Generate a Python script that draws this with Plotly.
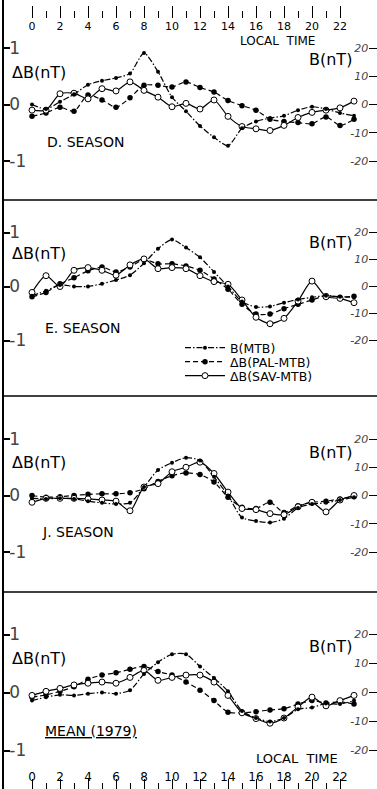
import plotly.graph_objects as go

# ---------------- data ----------------
hours = list(range(24))
tick_hours = list(range(0, 24, 2))
tick_labels = [str(h) for h in tick_hours]
minor_hours = list(range(1, 24, 2))

panel_labels = ["D. SEASON", "E. SEASON", "J. SEASON", "<u>MEAN (1979)</u>"]
series_names = ["B(MTB)", "ΔB(PAL-MTB)", "ΔB(SAV-MTB)"]

left_ticks = [-1, 0, 1]
left_tick_text = ["-1", "0", "1"]
right_ticks = [-20, -10, 0, 10, 20]
right_tick_text = ["-20", "-10", "0", "10", "20"]

# B(MTB) in nT (right axis)
d_b_mtb = [0, -1.6, 1, 3.6, 7, 8.4, 9.4, 11, 18.2, 11.6, 2.6, -2.4, -7.6, -11.6, -14.6, -8.4, -6, -4.8, -4, -2, -0.8, -1.6, -3, -4]
e_b_mtb = [-3.4, -1.6, 0.6, 0, 0, 1, 2.4, 4.2, 8.6, 14, 17.4, 14.4, 10.8, 5.4, 0, -5.6, -7.6, -7.4, -6, -4.8, -4, -3.4, -3.8, -4]
j_b_mtb = [-1, -1.2, -1, -1.2, -2, -2.6, -3, -2.6, 3, 9, 11.6, 13.4, 12.4, 6.6, 0, -7.8, -9, -9.6, -8.2, -4.4, -3, -2.6, -1.6, -0.6]
m_b_mtb = [-2.8, -1.6, -0.8, -1, -0.4, 0, -0.4, 0.8, 6.4, 10.4, 13.2, 13.2, 9, 5, 0.4, -6.4, -8.8, -10, -8.8, -5.8, -5.2, -3.8, -4, -2.8]

# ΔB(PAL-MTB) in nT (left axis)
d_pal = [-0.21, -0.15, -0.05, -0.12, 0.17, 0.08, -0.05, 0.12, 0.34, 0.34, 0.31, 0.40, 0.30, 0.22, 0.07, -0.02, -0.10, -0.26, -0.30, -0.32, -0.34, -0.22, -0.37, -0.26]
e_pal = [-0.19, -0.11, 0.05, 0.16, 0.29, 0.36, 0.27, 0.36, 0.50, 0.42, 0.42, 0.38, 0.30, 0.14, -0.05, -0.33, -0.51, -0.51, -0.41, -0.33, -0.25, -0.17, -0.20, -0.18]
j_pal = [0.0, -0.03, -0.02, 0.0, 0.02, 0.03, 0.03, 0.05, 0.12, 0.25, 0.35, 0.40, 0.37, 0.24, -0.03, -0.21, -0.23, -0.12, -0.30, -0.18, -0.12, -0.10, -0.06, -0.02]
m_pal = [-0.08, -0.04, 0.02, 0.10, 0.23, 0.30, 0.34, 0.40, 0.45, 0.36, 0.30, 0.18, 0.04, -0.14, -0.34, -0.35, -0.33, -0.30, -0.28, -0.20, -0.14, -0.18, -0.16, -0.20]

# ΔB(SAV-MTB) in nT (left axis)
d_sav = [-0.10, -0.10, 0.19, 0.20, 0.10, 0.28, 0.24, 0.40, 0.25, 0.13, -0.04, 0.02, -0.08, 0.08, -0.21, -0.39, -0.43, -0.46, -0.37, -0.23, -0.14, -0.10, -0.06, 0.06]
e_sav = [-0.11, 0.20, 0.00, 0.30, 0.35, 0.30, 0.21, 0.40, 0.51, 0.33, 0.35, 0.33, 0.20, 0.09, 0.04, -0.25, -0.57, -0.69, -0.59, -0.27, 0.10, -0.19, -0.22, -0.30]
j_sav = [-0.12, -0.05, -0.05, -0.05, -0.06, -0.08, -0.10, -0.27, 0.15, 0.21, 0.42, 0.50, 0.59, 0.39, 0.06, -0.23, -0.25, -0.32, -0.34, -0.20, -0.12, -0.29, -0.08, 0.00]
m_sav = [-0.05, 0.02, 0.07, 0.13, 0.16, 0.18, 0.16, 0.26, 0.38, 0.21, 0.26, 0.30, 0.30, 0.18, -0.05, -0.35, -0.45, -0.53, -0.44, -0.25, -0.08, -0.23, -0.14, -0.05]

b_mtb_all = [d_b_mtb, e_b_mtb, j_b_mtb, m_b_mtb]
pal_all = [d_pal, e_pal, j_pal, m_pal]
sav_all = [d_sav, e_sav, j_sav, m_sav]

# ---------------- layout geometry ----------------
W, H = 377, 789
FONT = "DejaVu Sans"
panel_top = [0, 200, 396, 592]
panel_bot = [200, 396, 592, 789]
zero_px = [104.5, 286.5, 495.5, 692.5]
unit_px = [56.5, 54.0, 56.5, 58.0]
right_scale = 20.0
x_left_px, x_zero_px, px_per_hour = 4, 32, 14.0
x_range = [(x_left_px - x_zero_px) / px_per_hour, (W - x_zero_px) / px_per_hour]
legend_rows_px = [348, 362, 376]


def py(p):
    return 1 - p / H


fig = go.Figure()

legend_ids = ["legend", "legend2", "legend3"]
for i in range(4):
    sx = "" if i == 0 else str(i + 1)
    xname = "x" + sx
    yname = "y" + sx
    rname = "y" + str(i + 5)
    show = i == 0
    fig.add_trace(go.Scatter(
        x=hours, y=b_mtb_all[i], xaxis=xname, yaxis=rname, name=series_names[0],
        mode="lines+markers", showlegend=show, legend=legend_ids[0],
        line=dict(color="black", width=1.2, dash="6px,2px,1.5px,2px", shape="spline", smoothing=0.7),
        marker=dict(size=4, color="black")))
    fig.add_trace(go.Scatter(
        x=hours, y=pal_all[i], xaxis=xname, yaxis=yname, name=series_names[1],
        mode="lines+markers", showlegend=show, legend=legend_ids[1],
        line=dict(color="black", width=1.2, dash="5px,3px", shape="spline", smoothing=0.7),
        marker=dict(size=5.5, color="black")))
    fig.add_trace(go.Scatter(
        x=hours, y=sav_all[i], xaxis=xname, yaxis=yname, name=series_names[2],
        mode="lines+markers", showlegend=show, legend=legend_ids[2],
        line=dict(color="black", width=1.2, shape="spline", smoothing=0.7),
        marker=dict(size=6, color="white", symbol="circle", line=dict(color="black", width=1))))

# invisible helper trace so that the bottom label axis is drawn
fig.add_trace(go.Scatter(x=tick_hours, y=[None] * len(tick_hours), xaxis="x5", yaxis="y4",
                         mode="markers", showlegend=False, hoverinfo="skip"))

layout = dict(
    width=W, height=H, margin=dict(l=0, r=0, t=0, b=0),
    paper_bgcolor="white", plot_bgcolor="white",
    font=dict(family=FONT, color="black"),
    showlegend=True,
    hovermode=False,
)
for k, lid in enumerate(legend_ids):
    layout[lid] = dict(x=180 / W, y=py(legend_rows_px[k]), xanchor="left", yanchor="middle",
                       font=dict(size=12.5, family=FONT), bgcolor="rgba(0,0,0,0)",
                       itemwidth=40, borderwidth=0)

for i in range(4):
    sx = "" if i == 0 else str(i + 1)
    dom = [py(panel_bot[i]), py(panel_top[i])]
    yr = [(zero_px[i] - panel_bot[i]) / unit_px[i], (zero_px[i] - panel_top[i]) / unit_px[i]]
    xa = dict(domain=[x_left_px / W, 1], range=x_range, showgrid=False, zeroline=False,
              anchor="y" + sx, visible=False)
    if i == 0:
        xa.update(visible=True, anchor="free", position=py(18), side="bottom",
                  tickmode="array", tickvals=tick_hours, ticktext=tick_labels,
                  ticks="inside", ticklen=12, tickwidth=1.3, tickcolor="black",
                  minor=dict(tickmode="array", tickvals=minor_hours, ticks="inside",
                             ticklen=7, tickwidth=1.3, tickcolor="black"),
                  showline=False, tickfont=dict(size=11, family=FONT))
    if i == 3:
        xa.update(visible=True, side="bottom", tickmode="array", tickvals=tick_hours,
                  showticklabels=False, ticks="inside", ticklen=10, tickwidth=1.3,
                  tickcolor="black",
                  minor=dict(tickmode="array", tickvals=minor_hours, ticks="inside",
                             ticklen=6, tickwidth=1.3, tickcolor="black"),
                  showline=False)
    layout["xaxis" + sx] = xa
    layout["yaxis" + sx] = dict(
        domain=dom, range=yr, anchor="x" + sx, showgrid=False, zeroline=False,
        tickmode="array", tickvals=left_ticks, ticktext=left_tick_text,
        ticks="inside", ticklen=6, tickwidth=1.5, tickcolor="black",
        ticklabelposition="inside", tickfont=dict(size=17, family=FONT),
        showline=True, linecolor="black", linewidth=1.5)
    layout["yaxis" + str(i + 5)] = dict(
        overlaying="y" + sx, anchor="x" + sx, side="right",
        range=[v * right_scale for v in yr], showgrid=False, zeroline=False,
        tickmode="array", tickvals=right_ticks, ticktext=right_tick_text,
        ticks="inside", ticklen=8, tickwidth=1, tickcolor="black",
        ticklabelposition="inside", showline=False,
        tickfont=dict(size=11, family=FONT, style="italic"))

layout["xaxis5"] = dict(overlaying="x4", anchor="free", position=6 / H, side="top",
                        range=x_range, tickmode="array", tickvals=tick_hours,
                        ticktext=tick_labels, ticks="", showline=False, showgrid=False,
                        zeroline=False, tickfont=dict(size=12, family=FONT))

shapes = []
for b in panel_bot[:3]:
    shapes.append(dict(type="line", xref="paper", yref="paper", x0=x_left_px / W, x1=1,
                       y0=py(b), y1=py(b), line=dict(color="black", width=1.5)))
layout["shapes"] = shapes

annotations = []
dB_y = [72, 254, 462, 658]
B_y = [60, 242, 452, 646]
label_pos = [(45, 142), (43, 328), (40, 532), (43, 731)]
for i in range(4):
    annotations.append(dict(text="ΔB(nT)", x=10 / W, y=py(dB_y[i]), xref="paper", yref="paper",
                            xanchor="left", yanchor="middle", showarrow=False,
                            font=dict(size=16, family=FONT)))
    annotations.append(dict(text="B(nT)", x=354 / W, y=py(B_y[i]), xref="paper", yref="paper",
                            xanchor="right", yanchor="middle", showarrow=False,
                            font=dict(size=16, family=FONT)))
    annotations.append(dict(text=panel_labels[i], x=label_pos[i][0] / W, y=py(label_pos[i][1]),
                            xref="paper", yref="paper", xanchor="left", yanchor="middle",
                            showarrow=False, font=dict(size=14, family=FONT)))
annotations.append(dict(text="LOCAL  TIME", x=277 / W, y=py(41), xref="paper", yref="paper",
                        xanchor="center", yanchor="middle", showarrow=False,
                        font=dict(size=12, family=FONT)))
annotations.append(dict(text="LOCAL  TIME", x=297 / W, y=py(758), xref="paper", yref="paper",
                        xanchor="center", yanchor="middle", showarrow=False,
                        font=dict(size=13, family=FONT)))
layout["annotations"] = annotations

fig.update_layout(**layout)
fig.write_html("out.html", config={"displayModeBar": False},
               post_script="document.body.style.margin='0';document.body.style.overflow='hidden';")
